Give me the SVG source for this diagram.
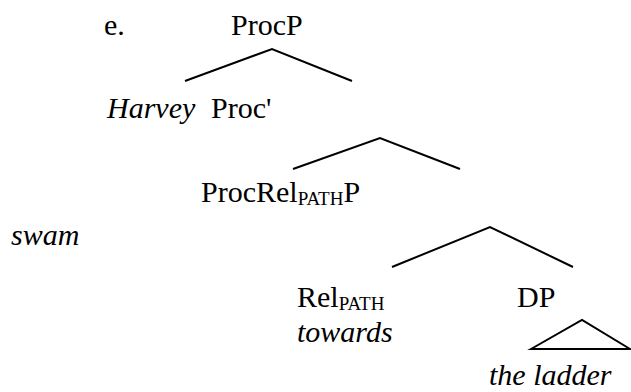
<svg xmlns="http://www.w3.org/2000/svg" width="631" height="392" viewBox="0 0 631 392">
  <style>
    .lbl { font-family: 'Liberation Serif', 'Times New Roman', serif; font-size: 30px; fill: #000; }
    .it { font-style: italic; }
    .sub { font-size: 19px; }
    .edge { stroke: #000; stroke-width: 2; fill: none; }
  </style>
  <rect width="631" height="392" fill="#fff"/>
  <g id="connectors">
    <polyline class="edge" points="185,81 272,49 352,81"/>
    <polyline class="edge" points="293,169 380,138 460,169"/>
    <polyline class="edge" points="392,267 490,227 573,267"/>
    <polygon class="edge" stroke-width="1.3" points="531,349 582,320 630,349"/>
  </g>
  <g class="lbl">
    <g id="label-e"><text x="104" y="35">e.</text></g>
    <g id="node-ProcP"><text x="231" y="35">ProcP</text></g>
    <g id="node-Harvey"><text x="107" y="118" class="it">Harvey</text></g>
    <g id="node-ProcBar"><text x="211" y="118">Proc'</text></g>
    <g id="node-ProcRelPathP"><text x="201" y="202">ProcRel<tspan class="sub" dy="3">PATH</tspan><tspan dy="-3">P</tspan></text></g>
    <g id="node-swam"><text x="11" y="245" class="it">swam</text></g>
    <g id="node-RelPath"><text x="297" y="307">Rel<tspan class="sub" dy="3">PATH</tspan></text></g>
    <g id="node-towards"><text x="297" y="342" class="it">towards</text></g>
    <g id="node-DP"><text x="517" y="307">DP</text></g>
    <g id="node-the-ladder"><text x="489" y="385" class="it">the ladder</text></g>
  </g>
</svg>
